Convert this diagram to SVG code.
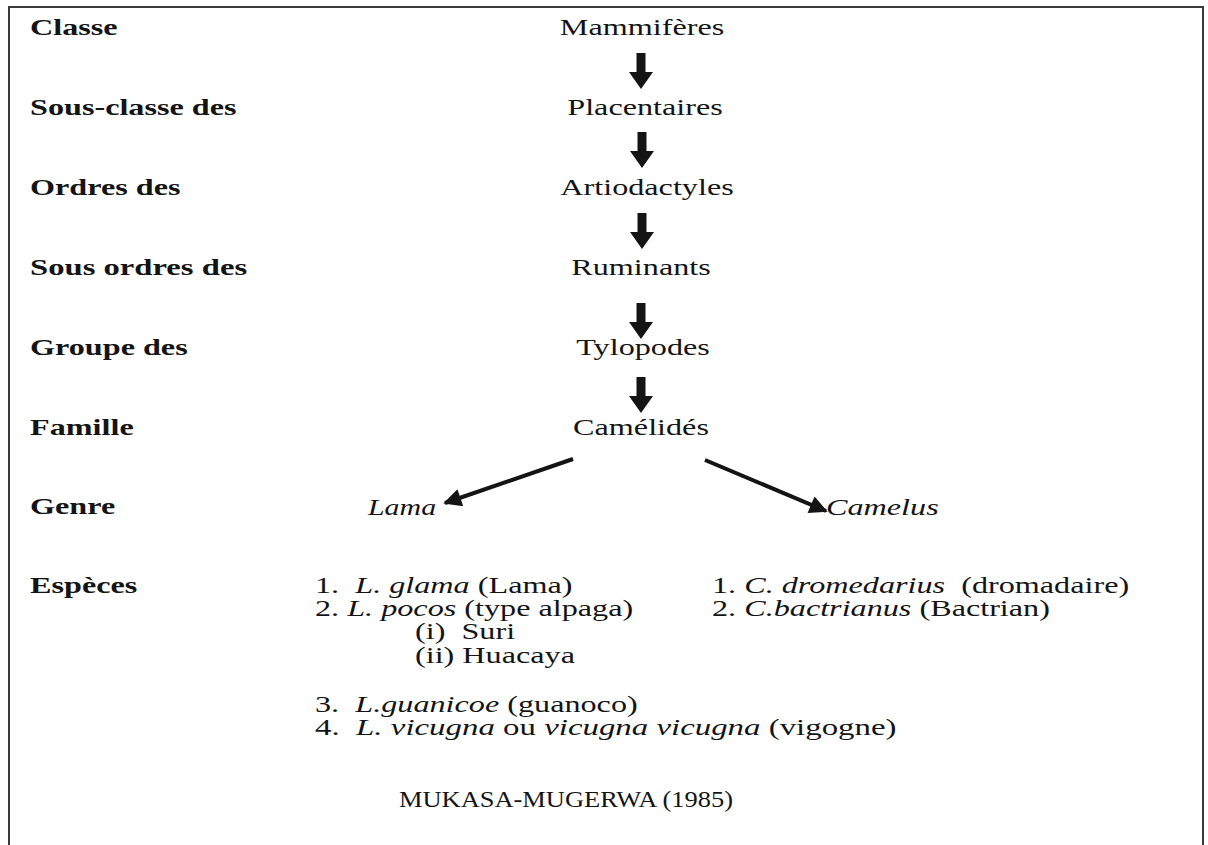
<svg xmlns="http://www.w3.org/2000/svg" xmlns:xlink="http://www.w3.org/1999/xlink" width="1208" height="845" viewBox="0 0 1208 845">
<style>
text{font-family:"Liberation Serif","Times New Roman",serif;font-size:23px;fill:#141414}
.b{font-weight:bold}
.i{font-style:italic}
.c{text-anchor:middle}
.frame{fill:none;stroke:#3a3a3a;stroke-width:2}
.diag{stroke:#141414;stroke-width:4;fill:none}
</style>
<defs>
<path id="blk" d="M-4.5,0 H4.5 V19 H12 L0,36 L-12,19 H-4.5 Z" fill="#141414"/>
<marker id="ah" viewBox="0 0 10 10" refX="9" refY="5" markerWidth="5" markerHeight="4.5" orient="auto" markerUnits="strokeWidth">
<path d="M0,0 L10,5 L0,10 Z" fill="#141414"/>
</marker>
</defs>
<rect width="1208" height="845" fill="#ffffff"/>
<path class="frame" d="M9,845 V7 H1203 V845"/>
<g id="labels">
<text class="b" transform="translate(30 35) scale(1.4 1)">Classe</text>
<text class="b" transform="translate(30 115) scale(1.4 1)">Sous-classe des</text>
<text class="b" transform="translate(30 195) scale(1.4 1)">Ordres des</text>
<text class="b" transform="translate(30 275) scale(1.42 1)">Sous ordres des</text>
<text class="b" transform="translate(30 355) scale(1.4 1)">Groupe des</text>
<text class="b" transform="translate(30 435) scale(1.4 1)">Famille</text>
<text class="b" transform="translate(30 514) scale(1.4 1)">Genre</text>
<text class="b" transform="translate(30 593) scale(1.4 1)">Espèces</text>
</g>
<g id="n-mammiferes"><text class="c" transform="translate(642 35) scale(1.4 1)">Mammifères</text></g>
<g id="n-placentaires"><text class="c" transform="translate(645 115) scale(1.4 1)">Placentaires</text></g>
<g id="n-artiodactyles"><text class="c" transform="translate(647 195) scale(1.4 1)">Artiodactyles</text></g>
<g id="n-ruminants"><text class="c" transform="translate(641 275) scale(1.4 1)">Ruminants</text></g>
<g id="n-tylopodes"><text class="c" transform="translate(643 355) scale(1.4 1)">Tylopodes</text></g>
<g id="n-camelides"><text class="c" transform="translate(641 435) scale(1.4 1)">Camélidés</text></g>
<g id="n-lama"><text class="i" transform="translate(368 515) scale(1.3 1)">Lama</text></g>
<g id="n-camelus"><text class="i" transform="translate(826 515) scale(1.4 1)">Camelus</text></g>
<g id="n-especes-lama">
<text xml:space="preserve" transform="translate(315 593) scale(1.4 1)">1.  <tspan class="i">L. glama</tspan> (Lama)</text>
<text xml:space="preserve" transform="translate(315 616) scale(1.4 1)">2. <tspan class="i">L. pocos</tspan> (type alpaga)</text>
<text xml:space="preserve" transform="translate(415 639) scale(1.4 1)">(i)  Suri</text>
<text xml:space="preserve" transform="translate(415 663) scale(1.4 1)">(ii) Huacaya</text>
<text xml:space="preserve" transform="translate(315 712) scale(1.4 1)">3.  <tspan class="i">L.guanicoe</tspan> (guanoco)</text>
<text xml:space="preserve" transform="translate(315 735) scale(1.43 1)">4.  <tspan class="i">L. vicugna</tspan> ou <tspan class="i">vicugna vicugna</tspan> (vigogne)</text>
</g>
<g id="n-especes-camelus">
<text xml:space="preserve" transform="translate(712 593) scale(1.4 1)">1. <tspan class="i">C. dromedarius</tspan>  (dromadaire)</text>
<text xml:space="preserve" transform="translate(712 616) scale(1.4 1)">2. <tspan class="i">C.bactrianus</tspan> (Bactrian)</text>
</g>
<g id="n-source"><text class="c" transform="translate(566 807) scale(1.15 1)">MUKASA-MUGERWA (1985)</text></g>
<g id="connectors">
<use xlink:href="#blk" transform="translate(641 53)"/>
<use xlink:href="#blk" transform="translate(642 132)"/>
<use xlink:href="#blk" transform="translate(642 213)"/>
<use xlink:href="#blk" transform="translate(641 303)"/>
<use xlink:href="#blk" transform="translate(641 377)"/>
<line class="diag" x1="573" y1="459" x2="445" y2="503" marker-end="url(#ah)"/>
<line class="diag" x1="705" y1="460" x2="826" y2="511" marker-end="url(#ah)"/>
</g>
</svg>
